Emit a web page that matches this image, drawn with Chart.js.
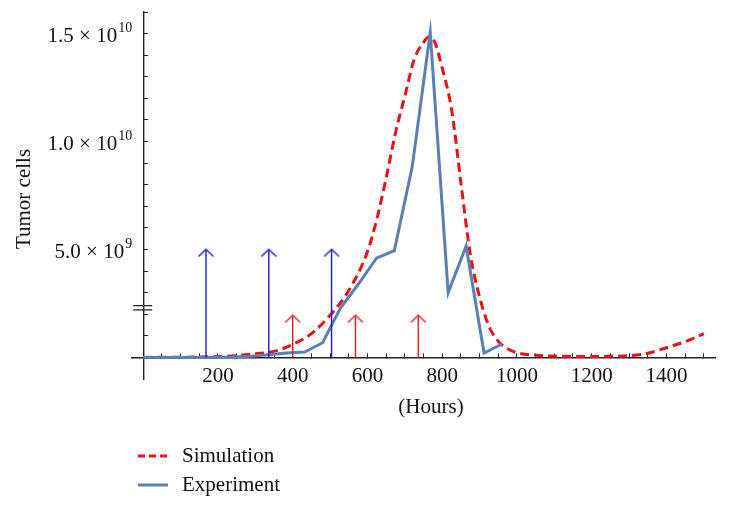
<!DOCTYPE html>
<html>
<head>
<meta charset="utf-8">
<script src="https://cdn.jsdelivr.net/npm/chart.js@4.4.0/dist/chart.umd.min.js"></script>
<style>
html,body{margin:0;padding:0;background:#fff;}
canvas{display:block;}
</style>
</head>
<body>
<canvas id="chart" width="730" height="509"></canvas>
<script>
// ===== DATA =====
const simHours = [0,50,100,150,200,250,300,350,400,450,500,550,600,625,650,675,700,725,750,765,780,800,825,850,875,900,925,950,975,1000,1050,1100,1150,1200,1250,1300,1350,1400,1450,1500];
const simCells = [0,0.005e9,0.01e9,0.02e9,0.04e9,0.08e9,0.17e9,0.28e9,0.6e9,1.1e9,1.95e9,3.1e9,4.9e9,6.4e9,8.3e9,10.4e9,12.1e9,13.8e9,14.6e9,14.85e9,14.6e9,13.4e9,11.5e9,8.1e9,4.8e9,2.8e9,1.45e9,0.75e9,0.4e9,0.22e9,0.1e9,0.06e9,0.04e9,0.04e9,0.05e9,0.08e9,0.19e9,0.45e9,0.73e9,1.1e9];

const expHours = [0,48,96,144,192,240,288,336,384,432,480,528,576,624,672,720,768,816,864,912,960];
const expCells = [0,0,0,0,0.01e9,0.02e9,0.05e9,0.12e9,0.2e9,0.25e9,0.68e9,2.3e9,3.4e9,4.6e9,4.95e9,8.85e9,15.05e9,3.0e9,5.15e9,0.2e9,0.62e9];

const blueArrowHours = [168,336,504];
const blueArrowTop = 5e9;
const redArrowHours = [400,568,736];
const redArrowTop = 1.95e9;

const xTickLabels = [200,400,600,800,1000,1200,1400];
const yTickValues = [5e9,1e10,1.5e10];
const yTickMantissa = ["5.0 × 10","1.0 × 10","1.5 × 10"];
const yTickExponent = ["9","10","10"];
const axisBreakValue = 2.3e9;

const legendNames = ["Simulation","Experiment"];

const FONT = "'Liberation Serif', 'DejaVu Serif', serif";
const RED = "#ee1111";
const BLUE = "#5a7fb8";
const ARROW_BLUE = "#1a1ae6";
const ARROW_RED = "#ee1c1c";


/* ================= HELPERS ================= */
function pts(xs, ys){
return xs.map((x,i)=>({x:x, y:ys[i]}));
}

function arrowPts(hours, top){
let out = [];
hours.forEach(h=>{
out.push({x:h, y:0});
out.push({x:h, y:top, head:true});
out.push({x:h, y:null});
});
return out;
}

function chevron(color){
let c = document.createElement("canvas");
c.width = 18; c.height = 18;
let g = c.getContext("2d");
g.strokeStyle = color;
g.lineWidth = 1.4;
g.beginPath();
g.moveTo(1.5,16);
g.lineTo(9,9);
g.lineTo(16.5,16);
g.stroke();
return c;
}

const blueHead = chevron(ARROW_BLUE);
const redHead = chevron(ARROW_RED);

function noEdgePadding(scale){
scale.paddingTop = 0;
scale.paddingBottom = 0;
scale.paddingLeft = 0;
scale.paddingRight = 0;
}


/* ================= DECOR PLUGIN ================= */
const decor = {
id:"decor",
afterDraw(chart){
const ctx = chart.ctx;
const xs = chart.scales.x, ys = chart.scales.y;
const x0 = xs.getPixelForValue(0);

ctx.save();

// y tick labels with superscript exponent
ctx.fillStyle = "#111";
ctx.textAlign = "right";
ctx.textBaseline = "middle";
yTickValues.forEach((v,i)=>{
let py = ys.getPixelForValue(v);
let xr = x0 - 11;
ctx.font = "14px " + FONT;
let ew = ctx.measureText(yTickExponent[i]).width;
ctx.fillText(yTickExponent[i], xr, py - 5);
ctx.font = "21px " + FONT;
ctx.fillText(yTickMantissa[i], xr - ew - 1, py + 3);
});

// axis break mark
const yb = ys.getPixelForValue(axisBreakValue);
ctx.strokeStyle = "#222";
ctx.lineWidth = 1.3;
ctx.beginPath();
ctx.moveTo(x0-10, yb-2.2); ctx.lineTo(x0+9, yb-2.2);
ctx.moveTo(x0-10, yb+2.2); ctx.lineTo(x0+9, yb+2.2);
ctx.stroke();

// axis titles
ctx.font = "21px " + FONT;
ctx.textAlign = "center";
ctx.fillText("(Hours)", 431, 407);
ctx.save();
ctx.translate(24, 199);
ctx.rotate(-Math.PI/2);
ctx.fillText("Tumor cells", 0, 0);
ctx.restore();

// legend
chart.data.datasets.slice(0,2).forEach((ds,i)=>{
let y = 456 + i*29;
ctx.strokeStyle = ds.borderColor;
ctx.lineWidth = ds.borderWidth;
ctx.setLineDash(i===0 ? [7,4] : []);
ctx.beginPath();
ctx.moveTo(138, y); ctx.lineTo(168, y);
ctx.stroke();
ctx.setLineDash([]);
ctx.textAlign = "left";
ctx.fillText(ds.label, 182, y);
});
ctx.restore();
}
};


/* ================= CHART ================= */
new Chart(document.getElementById("chart"), {
type:"scatter",
data:{
datasets:[
{
label: legendNames[0],
data: pts(simHours, simCells),
showLine:true,
borderColor: RED,
borderWidth: 3,
borderDash: [9,5],
cubicInterpolationMode: "monotone",
pointRadius: 0,
order: 3
},
{
label: legendNames[1],
data: pts(expHours, expCells),
showLine:true,
borderColor: BLUE,
borderWidth: 3,
pointRadius: 0,
order: 2
},
{
label:"blue arrows",
data: arrowPts(blueArrowHours, blueArrowTop),
showLine:true,
spanGaps:false,
borderColor: ARROW_BLUE,
borderWidth: 1.4,
pointStyle: blueHead,
pointRadius: c=> c.raw && c.raw.head ? 4 : 0,
order: 1
},
{
label:"red arrows",
data: arrowPts(redArrowHours, redArrowTop),
showLine:true,
spanGaps:false,
borderColor: ARROW_RED,
borderWidth: 1.4,
pointStyle: redHead,
pointRadius: c=> c.raw && c.raw.head ? 4 : 0,
order: 1
}
]
},
options:{
responsive:false,
animation:false,
devicePixelRatio:1,
layout:{ padding:{ left:132, right:15, top:12, bottom:130 } },
plugins:{
legend:{ display:false },
tooltip:{ enabled:false }
},
scales:{
x:{
type:"linear",
position:{ y:0 },
min:-30,
max:1530,
afterFit: noEdgePadding,
border:{ display:true, color:"#222", width:1.4 },
grid:{ drawOnChartArea:false, drawTicks:true, tickLength:-5, color:"#222", tickColor:"#222" },
ticks:{
stepSize:50,
autoSkip:false,
includeBounds:false,
maxRotation:0,
padding:11,
color:"#111",
font:{ family:FONT, size:21 },
callback:v=>{
if(v<=0) return null;
return xTickLabels.includes(v) ? String(v) : "";
}
}
},
y:{
type:"linear",
position:{ x:0 },
min:-1e9,
max:16e9,
afterFit: noEdgePadding,
border:{ display:true, color:"#222", width:1.4 },
grid:{ drawOnChartArea:false, drawTicks:true, tickLength:-5, color:"#222", tickColor:"#222" },
ticks:{
stepSize:1e9,
autoSkip:false,
includeBounds:false,
font:{ family:FONT, size:21 },
callback:v=> v<=0 ? null : ""
}
}
}
},
plugins:[decor]
});
</script>
</body>
</html>
